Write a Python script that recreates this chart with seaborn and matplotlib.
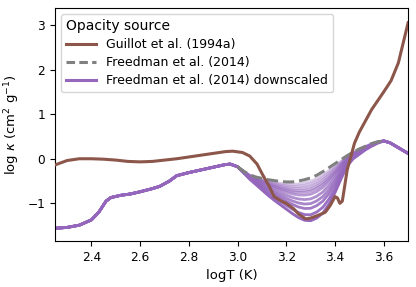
import numpy as np
import matplotlib
matplotlib.use('Agg')
import matplotlib.pyplot as plt
import seaborn as sns

# --- データ ---
# Guillot et al. (1994a)
logT_guillot = [2.25, 2.30, 2.35, 2.40, 2.45, 2.50, 2.55, 2.60, 2.65, 2.70, 2.75, 2.80,
                2.85, 2.90, 2.95, 2.98, 3.02, 3.05, 3.08, 3.10, 3.13, 3.15, 3.18, 3.20,
                3.23, 3.25, 3.28, 3.30, 3.33, 3.36, 3.38, 3.40, 3.41, 3.42, 3.43, 3.45,
                3.48, 3.50, 3.55, 3.60, 3.63, 3.66, 3.70]
kappa_guillot = [-0.14, -0.04, 0.00, 0.00, -0.01, -0.03, -0.06, -0.07, -0.06, -0.03, 0.00, 0.04,
                 0.08, 0.12, 0.16, 0.17, 0.14, 0.06, -0.12, -0.33, -0.62, -0.85, -0.95, -1.00,
                 -1.12, -1.24, -1.35, -1.33, -1.27, -1.20, -1.05, -0.85, -0.88, -1.00, -0.95, -0.25,
                 0.35, 0.60, 1.10, 1.50, 1.75, 2.15, 3.05]

# Freedman: 低温側 (全曲線共通)
logT_low = [2.25, 2.30, 2.35, 2.40, 2.43, 2.46, 2.48, 2.52, 2.56, 2.60, 2.65, 2.68,
            2.72, 2.75, 2.80, 2.85, 2.90, 2.95, 2.97, 3.00]
kappa_low = [-1.56, -1.54, -1.49, -1.37, -1.20, -0.95, -0.87, -0.82, -0.79, -0.74, -0.67, -0.62,
             -0.50, -0.38, -0.31, -0.25, -0.19, -0.13, -0.12, -0.18]

# Freedman: 3.0-3.6 の領域
logT_dip = [3.000, 3.025, 3.050, 3.075, 3.100, 3.125, 3.150, 3.175, 3.200, 3.225, 3.250, 3.275,
            3.300, 3.325, 3.350, 3.375, 3.400, 3.425, 3.450, 3.475, 3.500, 3.525, 3.550, 3.575, 3.600]
kappa_freedman_dip = [-0.18, -0.28, -0.36, -0.41, -0.44, -0.47, -0.49, -0.51, -0.52, -0.52, -0.50, -0.47,
                      -0.43, -0.37, -0.29, -0.20, -0.11, -0.02, 0.07, 0.15, 0.22, 0.28, 0.34, 0.38, 0.40]
kappa_lowest_dip = [-0.18, -0.32, -0.46, -0.58, -0.70, -0.82, -0.93, -1.03, -1.13, -1.23, -1.32, -1.38,
                    -1.39, -1.33, -1.22, -1.02, -0.76, -0.45, -0.16, 0.00, 0.10, 0.20, 0.28, 0.35, 0.40]

# Freedman: 高温側 (全曲線共通)
logT_high = [3.600, 3.625, 3.650, 3.675, 3.700]
kappa_high = [0.40, 0.36, 0.28, 0.20, 0.12]

# 各downscaled曲線の位置 (Freedman と最下曲線の間の割合、極小付近で読み取り)
downscale_frac = [0.08, 0.14, 0.20, 0.26, 0.31, 0.38, 0.49, 0.60, 0.71, 0.86, 1.00]

# --- 描画 ---
plt.rcParams['font.family'] = ['DejaVu Sans']
plt.rcParams['xtick.labelsize'] = 8.7
plt.rcParams['ytick.labelsize'] = 8.7
plt.rcParams['axes.labelsize'] = 9.5

fig, ax = plt.subplots(figsize=(4.16, 2.87), dpi=100)
fig.subplots_adjust(left=0.132, right=0.981, top=0.972, bottom=0.161)

purple = '#9467bd'
brown = '#8c564b'

f_dip = np.array(kappa_freedman_dip)
l_dip = np.array(kappa_lowest_dip)
x_full = np.concatenate([logT_low, logT_dip[1:], logT_high[1:]])

n = len(downscale_frac)
for i, frac in enumerate(downscale_frac):
    y_dip = f_dip + frac * (l_dip - f_dip)
    y_full = np.concatenate([kappa_low, y_dip[1:], kappa_high[1:]])
    alpha = 0.35 + 0.65 * i / (n - 1)
    sns.lineplot(x=x_full, y=y_full, ax=ax, color=purple, lw=2.0, alpha=alpha,
                 sort=False, estimator=None, zorder=2)

# 凡例用ハンドル
h_down, = ax.plot([], [], color=purple, lw=2.2, label='Freedman et al. (2014) downscaled')

sns.lineplot(x=logT_dip, y=kappa_freedman_dip, ax=ax, color='gray', lw=2.2,
             linestyle='--', dashes=(2.8, 1.4), sort=False, estimator=None, zorder=3)
h_free, = ax.plot([], [], color='gray', lw=2.2, linestyle='--', dashes=(2.8, 1.4),
                  label='Freedman et al. (2014)')

sns.lineplot(x=logT_guillot, y=kappa_guillot, ax=ax, color=brown, lw=2.2,
             sort=False, estimator=None, zorder=4)
h_guil, = ax.plot([], [], color=brown, lw=2.2, label='Guillot et al. (1994a)')

ax.legend(handles=[h_guil, h_free, h_down], title='Opacity source', loc='upper left',
          fontsize=9, title_fontsize=10, alignment='left', handlelength=2.4,
          borderaxespad=0.5, labelspacing=0.4)

ax.set_xlim(2.25, 3.7)
ax.set_ylim(-1.84, 3.38)
ax.set_xticks([2.4, 2.6, 2.8, 3.0, 3.2, 3.4, 3.6])
ax.set_yticks([-1, 0, 1, 2, 3])
ax.set_xlabel('logT (K)')
ax.set_ylabel(r'log $\kappa$ (cm$^2$ g$^{-1}$)')

plt.savefig('out.png', dpi=100)
